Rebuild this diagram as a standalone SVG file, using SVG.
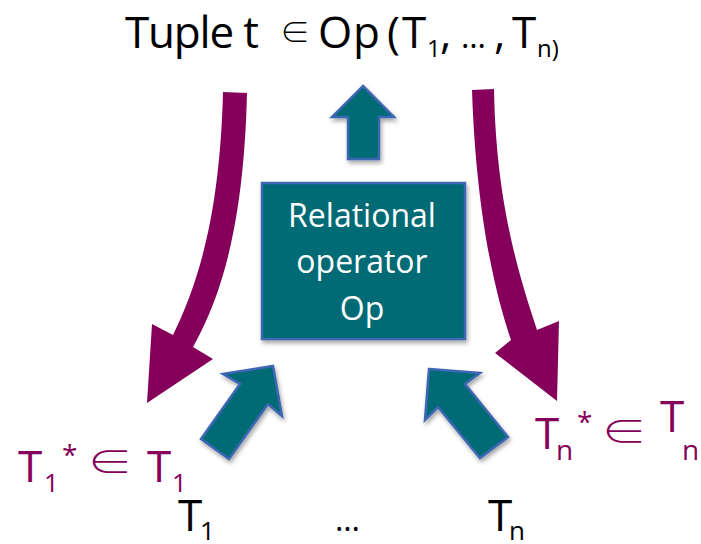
<svg xmlns="http://www.w3.org/2000/svg" width="701" height="544" viewBox="0 0 701 544">
<style>
.t{font-family:"Open Sans","Liberation Sans",sans-serif}
.el{font-family:"Noto Sans CJK JP","DejaVu Sans",sans-serif;font-weight:300;text-anchor:middle}
.blk{fill:#000}
.pur{fill:#85005A}
.wht{fill:#fff}
.teal{fill:#006B75;stroke:#3D66B3;stroke-width:2.5;stroke-linejoin:miter}
.purp{fill:#85005A}
</style>
<defs>
<filter id="sh" x="-20%" y="-20%" width="140%" height="140%">
<feDropShadow dx="1.5" dy="3" stdDeviation="2" flood-color="#000" flood-opacity="0.35"/>
</filter>
</defs>
<g id="title">
<text class="t blk" font-size="44" y="48"><tspan x="125" letter-spacing="-1.2">Tuple t</tspan><tspan x="318">O</tspan><tspan x="353">p</tspan><tspan x="387">(</tspan><tspan x="402">T</tspan><tspan x="427" y="57" font-size="24">1</tspan><tspan x="440" y="48">,</tspan><tspan x="494">,</tspan><tspan x="512">T</tspan><tspan x="537" y="57" font-size="24">n)</tspan></text>
<text class="t blk" font-size="32" x="461" y="48">…</text>
<text class="el blk" font-size="30" x="295" y="43">∈</text>
</g>
<g id="connectors">
<path id="arrow-left-out" class="purp" d="M223,92 L247,93 C244,215 225,290 193,347 L213,359 L147,403 L152,324 L173,335 C200,280 220,210 223,92 Z"/>
<path id="arrow-right-out" class="purp" d="M472,90 L494,89 C496,205 520,278 537,330 L559,321 L557,401 L495,353 L511,340 C494,290 476,210 472,90 Z"/>
<polygon id="arrow-up" class="teal" filter="url(#sh)" points="363,86 394,117 379,117 379,159 348,159 348,117 332,117"/>
<polygon id="arrow-in-1" class="teal" filter="url(#sh)" points="273,366 282,416 268,404 229,459 201,439 240,384 223,374"/>
<polygon id="arrow-in-n" class="teal" filter="url(#sh)" points="429,369 480,373 465,384 508,437 480,458 438,407 425,420"/>
</g>
<g id="operator">
<rect class="teal" filter="url(#sh)" x="262" y="183" width="203" height="156"/>
<text class="t wht" font-size="32" text-anchor="middle"><tspan x="362" y="227">Relational</tspan><tspan x="362" y="273">operator</tspan><tspan x="362" y="320">Op</tspan></text>
</g>
<g id="label-t1star">
<text class="t pur" font-size="44" y="482"><tspan x="18">T</tspan><tspan x="44" y="492" font-size="26">1</tspan><tspan x="62" y="465" font-size="28">*</tspan><tspan x="147" y="482">T</tspan><tspan x="172" y="492" font-size="26">1</tspan></text>
<text class="el pur" font-size="34" transform="translate(110,475) scale(1.35,1.05)">∈</text>
</g>
<g id="label-tnstar">
<text class="t pur" font-size="44" y="449"><tspan x="535">T</tspan><tspan x="556" y="460" font-size="28">n</tspan><tspan x="577" y="432" font-size="28">*</tspan><tspan x="660">T</tspan><tspan x="682" y="460" font-size="28">n</tspan></text>
<text class="el pur" font-size="34" transform="translate(624,444) scale(1.35,1.0)">∈</text>
</g>
<g id="input-t1">
<text class="t blk" font-size="44" y="531"><tspan x="178">T</tspan><tspan x="200" y="540" font-size="26">1</tspan></text>
</g>
<g id="input-dots">
<text class="t blk" font-size="32" x="335" y="531">…</text>
</g>
<g id="input-tn">
<text class="t blk" font-size="44" y="531"><tspan x="488">T</tspan><tspan x="509" y="540" font-size="26">n</tspan></text>
</g>
</svg>
